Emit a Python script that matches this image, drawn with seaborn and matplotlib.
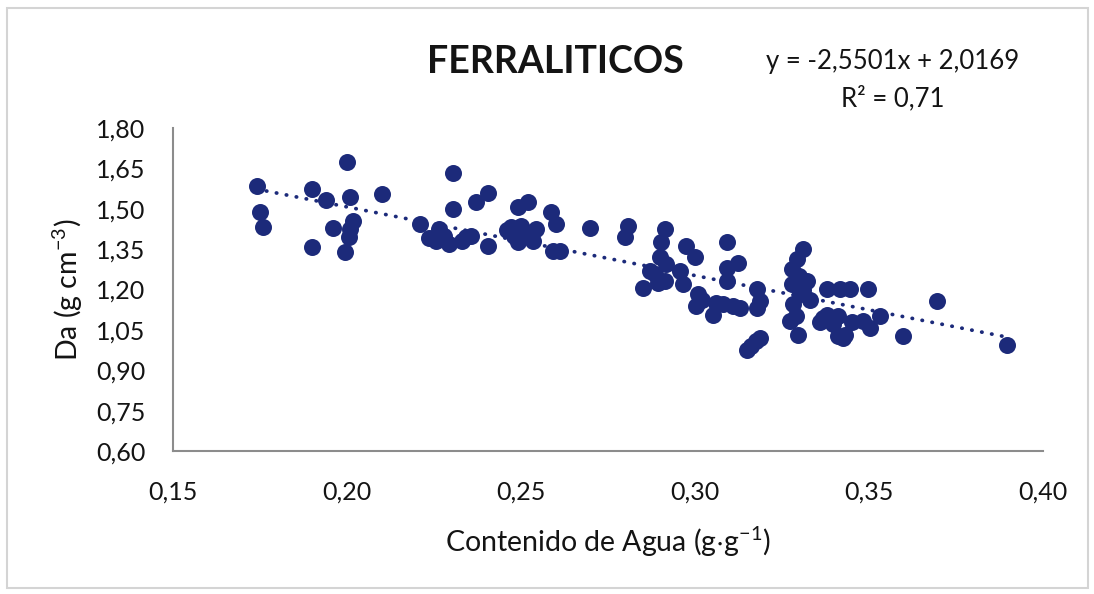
import numpy as np
import pandas as pd
import matplotlib
matplotlib.use("Agg")
import matplotlib.pyplot as plt
from matplotlib.patches import Rectangle
import seaborn as sns

# valores (contenido de agua g/g, densidad aparente g/cm3)
agua = [0.174, 0.175, 0.176, 0.190, 0.194, 0.200, 0.201, 0.210, 0.196, 0.2016,
        0.201, 0.2006, 0.1995, 0.190, 0.221, 0.2265, 0.2256, 0.2294, 0.2304, 0.2304,
        0.2371, 0.2405, 0.2342, 0.2357, 0.2405, 0.2491, 0.2520, 0.2587, 0.2601, 0.2472,
        0.2501, 0.2544, 0.2491, 0.2534, 0.248, 0.2592, 0.2611, 0.2697, 0.2807, 0.2798,
        0.2913, 0.2903, 0.2899, 0.2918, 0.2884, 0.2913, 0.2851, 0.2975, 0.2999, 0.2966,
        0.3009, 0.3004, 0.3052, 0.3091, 0.3091, 0.3124, 0.3091, 0.3081, 0.3129, 0.3177,
        0.3186, 0.3177, 0.3148, 0.3186, 0.3311, 0.3292, 0.3278, 0.3278, 0.3301, 0.3282,
        0.3273, 0.3297, 0.3321, 0.3378, 0.3417, 0.3445, 0.3498, 0.3378, 0.3397, 0.3412,
        0.3369, 0.3426, 0.3484, 0.3503, 0.3532, 0.3695, 0.3599, 0.3896,
        0.330, 0.331, 0.329, 0.333, 0.252, 0.246, 0.228, 0.233, 0.2235, 0.302,
        0.311, 0.306, 0.316, 0.3175, 0.336, 0.339, 0.341, 0.345, 0.343, 0.2872,
        0.2895, 0.2957]
densidad = [1.584, 1.487, 1.431, 1.575, 1.531, 1.674, 1.543, 1.556, 1.429, 1.456,
            1.425, 1.394, 1.338, 1.359, 1.444, 1.425, 1.381, 1.369, 1.631, 1.500,
            1.524, 1.558, 1.394, 1.400, 1.363, 1.506, 1.525, 1.487, 1.444, 1.431,
            1.437, 1.425, 1.375, 1.381, 1.400, 1.344, 1.344, 1.429, 1.437, 1.394,
            1.425, 1.375, 1.319, 1.294, 1.257, 1.232, 1.207, 1.363, 1.319, 1.219,
            1.182, 1.138, 1.107, 1.375, 1.281, 1.300, 1.232, 1.145, 1.132, 1.201,
            1.157, 1.132, 0.976, 1.020, 1.350, 1.313, 1.275, 1.219, 1.182, 1.145,
            1.082, 1.032, 1.232, 1.201, 1.201, 1.201, 1.201, 1.107, 1.070, 1.026,
            1.095, 1.020, 1.082, 1.057, 1.101, 1.157, 1.026, 0.995,
            1.250, 1.200, 1.100, 1.160, 1.410, 1.420, 1.400, 1.380, 1.390, 1.160,
            1.140, 1.150, 0.990, 1.010, 1.080, 1.090, 1.100, 1.080, 1.030, 1.270,
            1.225, 1.270]

# linea de tendencia de Excel
pendiente = -2.5501
intercepto = 2.0169

xticks = [0.15, 0.20, 0.25, 0.30, 0.35, 0.40]
xtick_labels = ["0,15", "0,20", "0,25", "0,30", "0,35", "0,40"]
yticks = [0.60, 0.75, 0.90, 1.05, 1.20, 1.35, 1.50, 1.65, 1.80]
ytick_labels = ["0,60", "0,75", "0,90", "1,05", "1,20", "1,35", "1,50", "1,65", "1,80"]

df = pd.DataFrame({"agua": agua, "da": densidad})
x_lin = np.array([min(agua), max(agua)])
df_lin = pd.DataFrame({"agua": x_lin, "da": pendiente * x_lin + intercepto})

sns.set_style("white")
plt.rcParams["font.family"] = ["Lato", "DejaVu Sans"]
plt.rcParams["mathtext.fontset"] = "custom"
plt.rcParams["mathtext.rm"] = "Lato"
plt.rcParams["mathtext.it"] = "Lato:italic"
plt.rcParams["mathtext.default"] = "regular"

azul = "#1c2a7a"
texto = "#141414"

fig = plt.figure(figsize=(10.94, 5.94), dpi=100)
ax = fig.add_axes([173 / 1094, 1 - 451 / 594, 870 / 1094, 323 / 594])

sns.lineplot(data=df_lin, x="agua", y="da", ax=ax, color=azul, linewidth=2.7,
             dashes=False, zorder=1)
ax.lines[0].set_linestyle((0, (0.1, 2.6)))
ax.lines[0].set_dash_capstyle("round")
sns.scatterplot(data=df, x="agua", y="da", ax=ax, s=150, color=azul,
                linewidth=0, zorder=2)

ax.set_xlim(0.15, 0.40)
ax.set_ylim(0.60, 1.80)
ax.set_xticks(xticks)
ax.set_xticklabels(xtick_labels)
ax.set_yticks(yticks)
ax.set_yticklabels(ytick_labels)
ax.tick_params(axis="x", length=0, pad=21, labelsize=18, labelcolor=texto)
ax.tick_params(axis="y", length=0, pad=20, labelsize=18, labelcolor=texto)
ax.set_xlabel("")
ax.set_ylabel("")
ax.set_facecolor("white")
for lado in ["top", "right"]:
    ax.spines[lado].set_visible(False)
for lado in ["left", "bottom"]:
    ax.spines[lado].set_color("#8c8c8c")
    ax.spines[lado].set_linewidth(1.5)

fig.text(555 / 1094, 1 - 62 / 594, "FERRALITICOS", ha="center", va="center",
         fontsize=27, fontweight="bold", color=texto)
fig.text(893 / 1094, 1 - 62 / 594, "y = -2,5501x + 2,0169", ha="center",
         va="center", fontsize=18.5, color=texto)
fig.text(893 / 1094, 1 - 98 / 594, "R² = 0,71", ha="center", va="center",
         fontsize=18.5, color=texto)
fig.text(608 / 1094, 1 - 542 / 594, r"Contenido de Agua (g$\cdot$g$^{-1}$)",
         ha="center", va="center", fontsize=20.5, color=texto)
fig.text(68 / 1094, 1 - 290 / 594, r"Da (g cm$^{-3}$)", ha="center",
         va="center", rotation=90, fontsize=20.5, color=texto)

fig.patches.append(Rectangle((7 / 1094, 6 / 594), 1081 / 1094, 580 / 594,
                             transform=fig.transFigure, fill=False,
                             edgecolor="#d4d4d4", linewidth=1.5))

fig.savefig("out.png", dpi=100, facecolor="white")
